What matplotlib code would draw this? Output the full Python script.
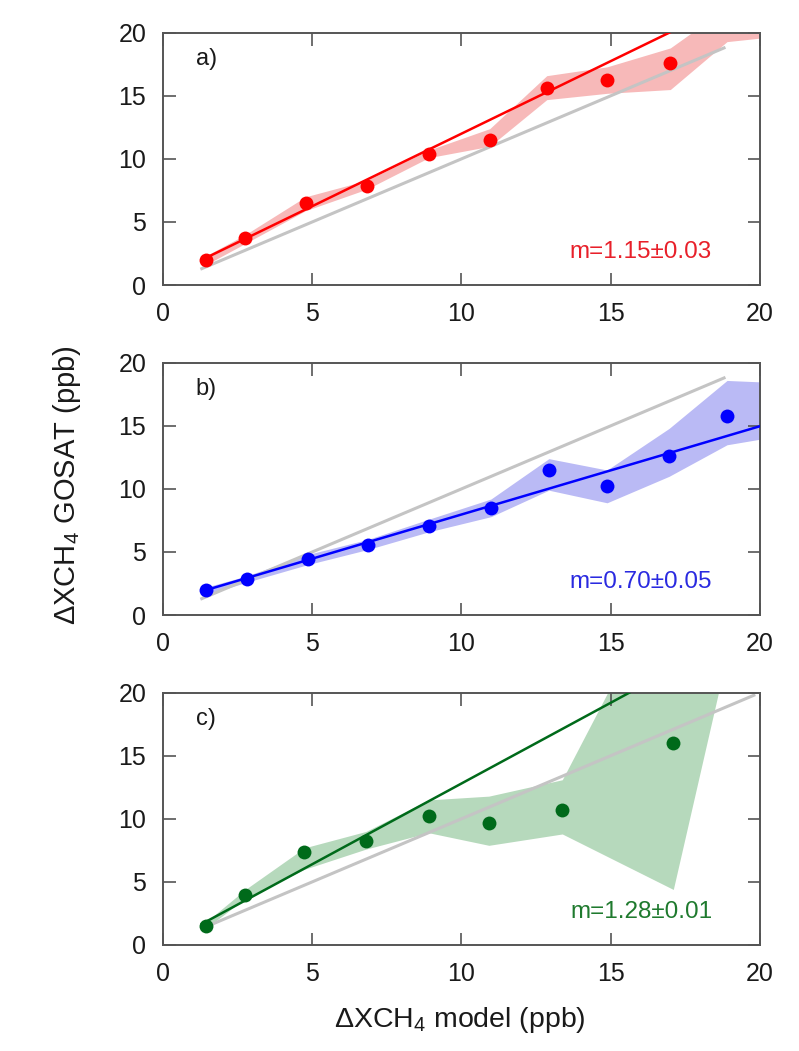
import numpy as np
import matplotlib
matplotlib.use("Agg")
import matplotlib.pyplot as plt

plt.rcParams['font.family'] = ['Liberation Sans', 'DejaVu Sans']
plt.rcParams['mathtext.fontset'] = 'custom'
plt.rcParams['mathtext.rm'] = 'Liberation Sans'

# panel a (red)
xa = [1.43, 2.76, 4.78, 6.83, 8.91, 10.95, 12.86, 14.88, 17.0, 18.9, 20.9]
ya = [1.99, 3.71, 6.49, 7.89, 10.38, 11.52, 15.63, 16.24, 17.6, 21.0, 21.5]
lo_a = [1.6, 3.3, 5.9, 7.6, 10.1, 11.0, 14.7, 15.2, 15.5, 19.3, 19.8]
hi_a = [2.3, 4.0, 7.0, 8.3, 10.7, 12.4, 16.6, 17.3, 18.8, 22.0, 23.0]
fit_a = (1.15, 0.5)

# panel b (blue)
xb = [1.43, 2.80, 4.85, 6.87, 8.91, 10.99, 12.93, 14.88, 16.96, 18.9, 20.9]
yb = [1.97, 2.84, 4.42, 5.53, 7.05, 8.50, 11.50, 10.21, 12.63, 15.79, 16.0]
lo_b = [1.6, 2.6, 4.0, 5.2, 6.6, 7.8, 9.9, 8.9, 11.0, 13.5, 14.3]
hi_b = [2.2, 3.1, 4.8, 6.0, 7.6, 9.2, 12.4, 11.5, 14.8, 18.6, 18.4]
fit_b = (0.70, 0.97)

# panel c (green)
xc = [1.43, 2.76, 4.74, 6.80, 8.90, 10.92, 13.38, 17.1, 19.0]
yc = [1.50, 3.95, 7.37, 8.24, 10.26, 9.68, 10.74, 16.05, 28.0]
lo_c = [1.3, 3.7, 6.0, 7.6, 8.9, 7.9, 8.8, 4.4, 24.0]
hi_c = [1.8, 4.4, 7.7, 9.0, 11.5, 11.8, 13.1, 30.0, 38.0]
fit_c = (1.28, 0.0)

one2one_end = [18.8, 18.8, 19.8]
labels = ['a)', 'b)', 'c)']
slope_txt = ['m=1.15\u00b10.03', 'm=0.70\u00b10.05', 'm=1.28\u00b10.01']
colors = ['#ff0000', '#0000ff', '#006a1a']
txt_colors = ['#e8202a', '#2a2ae0', '#1f7a2e']
fills = ['#f7b9b9', '#babaf5', '#b6d9bc']
ticks = [0, 5, 10, 15, 20]

fig = plt.figure(figsize=(7.99, 10.51), dpi=100)
left, width, height = 0.204, 0.747, 0.240
bottoms = [0.7288, 0.4148, 0.1009]

panels = [(xa, ya, lo_a, hi_a, fit_a), (xb, yb, lo_b, hi_b, fit_b), (xc, yc, lo_c, hi_c, fit_c)]
for i, (x, y, lo, hi, fit) in enumerate(panels):
    ax = fig.add_axes([left, bottoms[i], width, height])
    ax.fill_between(x, lo, hi, color=fills[i], lw=0, zorder=1)
    ax.plot([1.3, one2one_end[i]], [1.3, one2one_end[i]], color='#c4c4c4', lw=2.2, zorder=2)
    xf = np.array([1.3, 21.0])
    ax.plot(xf, fit[0] * xf + fit[1], color=colors[i], lw=1.8, zorder=3)
    ax.plot(x, y, 'o', color=colors[i], ms=10, mec='none', zorder=4)
    ax.set_xlim(0, 20)
    ax.set_ylim(0, 20)
    ax.set_xticks(ticks)
    ax.set_yticks(ticks)
    ax.tick_params(direction='in', length=9, width=1.2, top=True, right=True,
                   labelsize=18, pad=12, color='#555555', labelcolor='#1a1a1a')
    for s in ax.spines.values():
        s.set_linewidth(1.4)
        s.set_color('#555555')
    ax.text(1.1, 17.9, labels[i], fontsize=17, va='center', ha='left', color='#1a1a1a')
    ax.text(18.4, 2.6, slope_txt[i], fontsize=17.5, va='center', ha='right', color=txt_colors[i])

fig.text(0.084, 0.538, '$\\Delta$XCH$_4$ GOSAT (ppb)', rotation=90, fontsize=21,
         ha='center', va='center', color='#1a1a1a')
fig.text(0.576, 0.0295, '$\\Delta$XCH$_4$ model (ppb)', fontsize=20.5,
         ha='center', va='center', color='#1a1a1a')

fig.savefig('out.png', dpi=100)
